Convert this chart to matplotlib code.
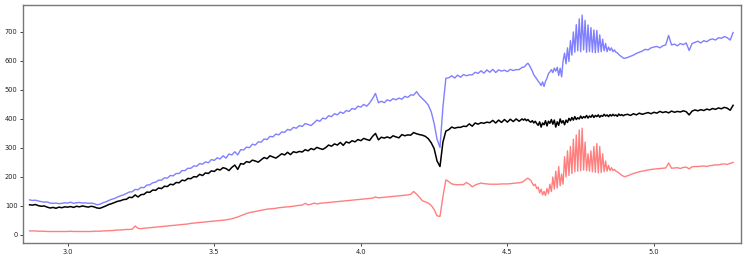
import numpy as np
import matplotlib
matplotlib.use("Agg")
import matplotlib.pyplot as plt

# wavelength grid, three pieces (finer sampling where the fringes are)
x_a = np.arange(287, 456) / 100.0   # 2.87 .. 4.55
x_b = np.arange(911, 981) / 200.0   # 4.555 .. 4.90
x_c = np.arange(491, 528) / 100.0   # 4.91 .. 5.27

# upper (blue) spectrum
blue_a = [121, 119, 120,
          117, 115, 113, 114, 110, 109, 110, 108, 109, 111,
          110, 113, 109, 111, 112, 110, 111, 109, 110, 108,
          104, 106, 111, 114, 119, 123, 126, 131, 135, 138,
          143, 148, 149, 157, 156, 164, 163, 172, 173, 180,
          182, 189, 189, 197, 196, 205, 204, 212, 212, 222,
          222, 230, 230, 238, 237, 246, 244, 252, 249, 260,
          257, 266, 262, 273, 265, 279, 276, 287, 276, 294,
          293, 303, 301, 313, 310, 321, 320, 331, 329, 340,
          338, 348, 345, 355, 354, 364, 361, 371, 368, 377,
          374, 384, 381, 377, 386, 396, 392, 403, 400, 411,
          408, 418, 414, 424, 419, 429, 426, 436, 433, 444,
          441, 450, 444, 455, 470, 488, 456, 461, 456, 466,
          462, 470, 466, 472, 468, 478, 474, 483, 482, 494,
          480, 470, 460, 448, 425, 385, 330, 302, 440, 540,
          542, 549, 541, 551, 544, 553, 549, 552, 552, 561,
          557, 566, 558, 569, 561, 571, 560, 569, 565, 568,
          563, 571, 567, 570, 570, 578]
blue_b = [578, 582, 588, 592, 585, 575, 565, 552, 545, 538,
          530, 524, 515, 528, 512, 530, 540, 556, 562, 570,
          560, 575, 565, 578, 550, 575, 545, 600, 627, 590,
          645, 598, 670, 620, 700, 630, 725, 635, 745, 632,
          758, 638, 740, 630, 724, 632, 715, 630, 707, 628,
          705, 630, 690, 632, 675, 635, 660, 632, 648, 636,
          645, 632, 638, 630, 628, 622, 618, 614, 610, 609]
blue_c = [612, 616, 620, 626, 630, 634, 640, 638, 645,
          648, 650, 645, 652, 655, 688, 655, 658, 652, 660,
          656, 662, 636, 660, 664, 668, 662, 670, 666, 673,
          676, 672, 680, 678, 684, 680, 672, 698]

# middle (black) spectrum
black_a = [104, 103, 105,
           101, 99, 100, 96, 93, 95, 92, 96, 94, 97,
           96, 98, 95, 99, 97, 100, 98, 96, 99, 97,
           93, 92, 96, 100, 105, 108, 112, 116, 118, 122,
           123, 130, 129, 138, 131, 139, 140, 148, 147, 155,
           154, 162, 160, 168, 167, 175, 173, 181, 180, 189,
           187, 195, 194, 201, 200, 209, 205, 214, 212, 221,
           219, 227, 224, 232, 229, 222, 233, 241, 226, 246,
           244, 253, 250, 258, 255, 251, 259, 267, 263, 273,
           269, 265, 272, 280, 276, 285, 277, 287, 284, 288,
           286, 294, 290, 298, 294, 302, 298, 295, 301, 310,
           306, 314, 310, 319, 309, 321, 317, 325, 321, 329,
           325, 333, 329, 326, 340, 350, 328, 337, 334, 338,
           334, 342, 338, 335, 346, 342, 345, 344, 353, 349,
           346, 344, 340, 332, 318, 298, 255, 236, 320, 358,
           363, 372, 368, 371, 371, 375, 374, 383, 375, 386,
           382, 387, 385, 389, 387, 395, 386, 396, 388, 398,
           389, 399, 391, 400, 392, 400]
black_b = [396, 400, 394, 398, 392, 389, 394, 386, 392, 384,
           378, 390, 372, 386, 380, 394, 376, 392, 385, 398,
           382, 396, 372, 390, 378, 400, 386, 394, 380, 396,
           388, 402, 394, 405, 396, 408, 398, 404, 400, 410,
           402, 408, 404, 412, 403, 410, 406, 414, 405, 412,
           408, 414, 406, 412, 409, 416, 410, 414, 408, 415,
           410, 416, 411, 414, 409, 417, 412, 415, 411, 414]
black_c = [416, 412, 418, 414, 420, 416, 419, 422, 418,
           423, 420, 426, 422, 425, 421, 427, 423, 426, 424,
           428, 425, 414, 427, 431, 428, 432, 429, 434, 431,
           436, 433, 438, 435, 440, 437, 430, 447]

# lower (red) spectrum
red_a = [14, 14, 14,
         13, 13, 13, 12, 12, 12, 12, 12, 12, 12,
         12, 13, 12, 12, 12, 12, 12, 12, 12, 13,
         13, 13, 14, 14, 15, 15, 16, 17, 17, 18,
         19, 19, 20, 31, 23, 22, 23, 24, 25, 26,
         27, 28, 29, 30, 31, 32, 33, 34, 35, 36,
         37, 38, 40, 41, 42, 43, 44, 45, 46, 47,
         48, 49, 50, 51, 52, 54, 56, 59, 62, 66,
         70, 74, 77, 79, 81, 83, 85, 87, 89, 90,
         91, 92, 94, 95, 96, 97, 98, 99, 101, 102,
         103, 109, 104, 106, 110, 107, 109, 110, 111, 112,
         113, 114, 115, 116, 117, 118, 119, 120, 121, 122,
         123, 124, 125, 126, 127, 131, 128, 129, 130, 131,
         132, 133, 134, 135, 136, 137, 138, 140, 150, 141,
         130, 118, 114, 110, 102, 88, 66, 64, 132, 190,
         184, 176, 174, 173, 174, 173, 181, 175, 166, 172,
         176, 179, 177, 176, 175, 175, 175, 175, 176, 176,
         176, 177, 178, 179, 180, 182]
red_b = [185, 189, 193, 196, 192, 188, 178, 170, 175, 160,
         165, 145, 158, 138, 150, 136, 160, 142, 175, 150,
         200, 158, 220, 162, 236, 170, 210, 175, 270, 200,
         290, 205, 305, 212, 330, 218, 345, 220, 362, 222,
         368, 224, 320, 222, 280, 220, 290, 218, 305, 216,
         315, 214, 305, 215, 280, 218, 255, 220, 240, 222,
         232, 222, 226, 220, 218, 214, 210, 206, 203, 201]
red_c = [204, 208, 212, 215, 218, 220, 222, 224, 226,
         227, 228, 229, 230, 231, 248, 230, 231, 232, 229,
         233, 234, 228, 235, 236, 236, 237, 238, 236, 239,
         240, 242, 241, 244, 245, 243, 247, 250]

x = np.concatenate([x_a, x_b, x_c])
blue = blue_a + blue_b + blue_c
black = black_a + black_b + black_c
red = red_a + red_b + red_c

fig = plt.figure(figsize=(7.47, 2.6), dpi=100)
ax = fig.add_axes([0.031, 0.065, 0.961, 0.916])

ax.plot(x, blue, color='blue', alpha=0.5, lw=1.0)
ax.plot(x, black, color='black', lw=1.1)
ax.plot(x, red, color='red', alpha=0.5, lw=1.0)

ax.set_xlim(2.848, 5.297)
ax.set_ylim(-28, 793)
ax.set_xticks([3.0, 3.5, 4.0, 4.5, 5.0])
ax.set_yticks([0, 100, 200, 300, 400, 500, 600, 700])
ax.tick_params(labelsize=4.8, length=2.5, width=0.6, pad=1.5, colors='#222222')
for sp in ax.spines.values():
    sp.set_color('#777777')
    sp.set_linewidth(1.0)

fig.savefig("out.png", dpi=100)
